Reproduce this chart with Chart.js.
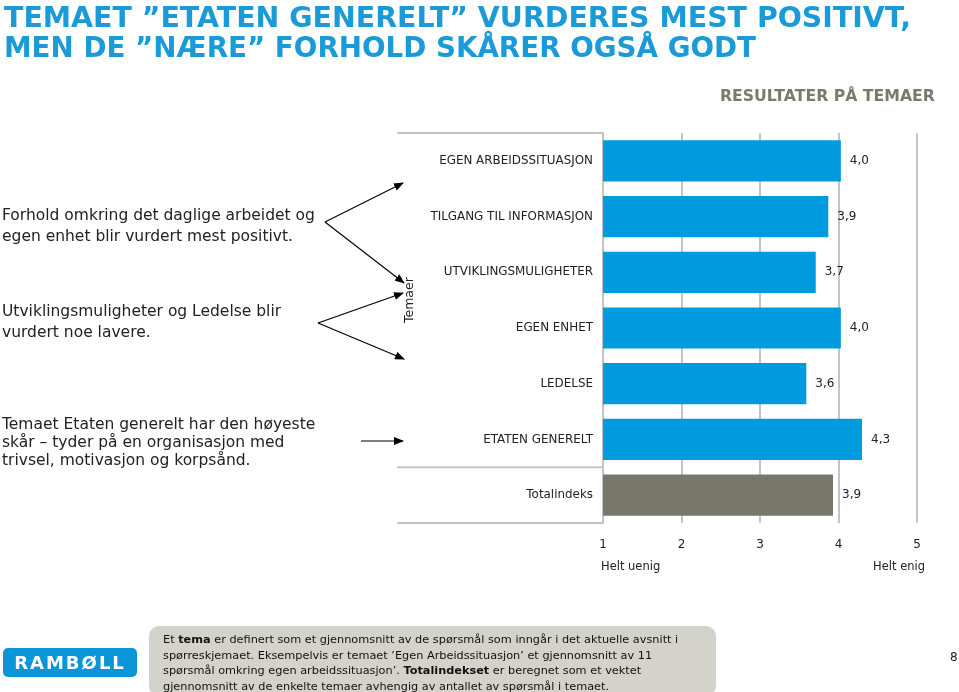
<!DOCTYPE html>
<html><head><meta charset="utf-8">
<script src="https://cdn.jsdelivr.net/npm/chart.js@4"></script>
<style>
html,body{margin:0;padding:0;background:#fff;}
body{width:959px;height:692px;position:relative;overflow:hidden;font-family:"DejaVu Sans",Verdana,sans-serif;color:#222;}
#c{position:absolute;left:0;top:0;}
.t{position:absolute;white-space:nowrap;}
.title{left:4px;font-weight:bold;font-size:28px;line-height:28px;color:#1a9ad6;transform-origin:0 0;}
.sub{right:24px;top:88px;font-weight:bold;font-size:16px;line-height:16px;color:#7a7a6c;transform-origin:100% 0;}
.note{left:2px;font-size:15.5px;line-height:21px;color:#222;}
.note3{line-height:18px;}
#box{position:absolute;left:149px;top:626px;width:567px;height:70px;background:#d3d3cb;border-radius:10px;}
#boxtext{position:absolute;left:163px;top:632px;font-family:"DejaVu Sans",sans-serif;font-size:11.3px;line-height:15.5px;color:#111;white-space:nowrap;}
#logo{position:absolute;left:3px;top:648px;width:134px;height:29px;background:#0a95d8;border-radius:5px;color:#fff;font-weight:bold;font-size:18px;line-height:29px;text-align:center;letter-spacing:2px;}
#pg{position:absolute;left:950px;top:650px;font-size:12px;}
svg{position:absolute;left:0;top:0;}
</style></head>
<body>
<canvas id="c" width="959" height="692"></canvas>
<div class="t title fit" data-w="907" style="top:4px">TEMAET ”ETATEN GENERELT” VURDERES MEST POSITIVT,</div>
<div class="t title fit" data-w="752" style="top:34px">MEN DE ”NÆRE” FORHOLD SKÅRER OGSÅ GODT</div>
<div class="t sub fit" data-w="215">RESULTATER PÅ TEMAER</div>

<div class="t note" style="top:205px">Forhold omkring det daglige arbeidet og<br>egen enhet blir vurdert mest positivt.</div>
<div class="t note" style="top:301px">Utviklingsmuligheter og Ledelse blir<br>vurdert noe lavere.</div>
<div class="t note note3" style="top:415px">Temaet Etaten generelt har den høyeste<br>skår – tyder på en organisasjon med<br>trivsel, motivasjon og korpsånd.</div>

<svg width="959" height="692">
<defs><marker id="ah" markerWidth="10" markerHeight="8" refX="9" refY="4" orient="auto" markerUnits="userSpaceOnUse"><path d="M0,0 L10,4 L0,8 z" fill="#000"/></marker></defs>
<g stroke="#000" stroke-width="1.2" fill="none">
<line x1="325" y1="222" x2="403" y2="183" marker-end="url(#ah)"/>
<line x1="325" y1="222" x2="404" y2="283" marker-end="url(#ah)"/>
<line x1="318" y1="323" x2="403" y2="293" marker-end="url(#ah)"/>
<line x1="318" y1="323" x2="404" y2="359" marker-end="url(#ah)"/>
<line x1="361" y1="441" x2="403" y2="441" marker-end="url(#ah)"/>
</g></svg>

<div id="box"></div>
<div id="boxtext">Et <b>tema</b> er definert som et gjennomsnitt av de spørsmål som inngår i det aktuelle avsnitt i<br>spørreskjemaet. Eksempelvis er temaet ’Egen Arbeidssituasjon’ et gjennomsnitt av 11<br>spørsmål omkring egen arbeidssituasjon’. <b>Totalindekset</b> er beregnet som et vektet<br>gjennomsnitt av de enkelte temaer avhengig av antallet av spørsmål i temaet.</div>
<div id="logo">RAMBØLL</div>
<div id="pg">8</div>

<script>
const categories = ["EGEN ARBEIDSSITUASJON","TILGANG TIL INFORMASJON","UTVIKLINGSMULIGHETER","EGEN ENHET","LEDELSE","ETATEN GENERELT","Totalindeks"];
const scores = [4.03, 3.87, 3.71, 4.03, 3.59, 4.30, 3.93];
const scaleTicks = [1, 2, 3, 4, 5];
const scaleEndLabels = ["Helt uenig", "Helt enig"];
const groupLabel = "Temaer";

document.querySelectorAll('.fit').forEach(el => {
  const w = el.getBoundingClientRect().width;
  el.style.transform = 'scaleX(' + (parseFloat(el.dataset.w) / w) + ')';
});

const mctx = document.createElement('canvas').getContext('2d');
mctx.font = '12px "DejaVu Sans"';
const catFontSize = Math.min(12.5, 12 * 154 / mctx.measureText(categories[0]).width);

const fmt = v => v.toFixed(1).replace('.', ',');

const deco = {
  id: 'deco',
  afterDraw(chart) {
    const { ctx, chartArea: a, scales: { x, y } } = chart;
    const left = y.left;
    const n = categories.length;
    const sep = (y.getPixelForValue(n - 2) + y.getPixelForValue(n - 1)) / 2;
    ctx.save();
    ctx.strokeStyle = '#c4c4c4'; ctx.lineWidth = 2;
    [a.top, sep, a.bottom].forEach(yy => {
      ctx.beginPath(); ctx.moveTo(left, yy); ctx.lineTo(a.left, yy); ctx.stroke();
    });
    ctx.fillStyle = '#222';
    ctx.font = '12px "DejaVu Sans"';
    ctx.textAlign = 'left'; ctx.textBaseline = 'middle';
    chart.getDatasetMeta(0).data.forEach((bar, i) => {
      ctx.fillText(fmt(scores[i]), bar.x + 9, bar.y);
    });
    ctx.font = '11.5px "DejaVu Sans"';
    ctx.textAlign = 'left';
    ctx.fillText(scaleEndLabels[0], x.getPixelForValue(scaleTicks[0]) - 2, a.bottom + 44);
    ctx.textAlign = 'right';
    ctx.fillText(scaleEndLabels[1], x.getPixelForValue(scaleTicks[scaleTicks.length - 1]) + 8, a.bottom + 44);
    ctx.translate(left + 13, (a.top + sep) / 2);
    ctx.rotate(-Math.PI / 2);
    ctx.textAlign = 'center';
    ctx.font = '12.5px "DejaVu Sans"';
    ctx.fillText(groupLabel, 0, 0);
    ctx.restore();
  }
};

new Chart(document.getElementById('c'), {
  type: 'bar',
  data: {
    labels: categories,
    datasets: [{
      data: scores,
      backgroundColor: c => categories[c.dataIndex] === 'Totalindeks' ? '#78786a' : '#009bde',
      barPercentage: 0.74,
      categoryPercentage: 1,
      borderWidth: 0
    }]
  },
  options: {
    indexAxis: 'y',
    responsive: false,
    animation: false,
    layout: { padding: { left: 397, top: 133, right: 42, bottom: 119 } },
    plugins: { legend: { display: false }, tooltip: { enabled: false } },
    scales: {
      x: {
        min: 1, max: 5,
        afterBuildTicks: s => { s.ticks = scaleTicks.map(v => ({ value: v })); },
        ticks: { padding: 15, font: { family: 'DejaVu Sans', size: 12 }, color: '#222', maxRotation: 0 },
        grid: { color: '#c4c4c4', lineWidth: 2, drawTicks: false },
        border: { display: false },
        afterFit: s => { s.height = 50; }
      },
      y: {
        ticks: { padding: 10, font: { family: 'DejaVu Sans', size: catFontSize }, color: '#222' },
        grid: { display: false, drawTicks: false },
        border: { display: true, color: '#c4c4c4', width: 2 },
        afterFit: s => { s.width = 206; }
      }
    }
  },
  plugins: [deco]
});
</script>
</body></html>
